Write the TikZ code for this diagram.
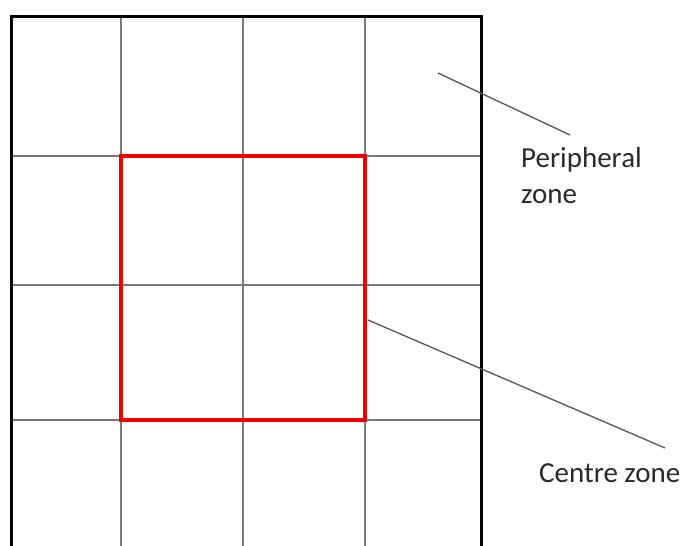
\documentclass[tikz,border=0pt]{standalone}
\usepackage{fontspec}
\setmainfont{Carlito}
\definecolor{gridgray}{HTML}{7A7A7A}
\definecolor{leadgray}{HTML}{555555}
\definecolor{txtgray}{HTML}{2A2A2A}
\definecolor{zonered}{HTML}{EE0000}
\begin{document}
\begin{tikzpicture}[x=1pt,y=-1pt,
  gridline/.style={draw=gridgray,line width=1.4pt},
  outerline/.style={draw=black,line width=3pt},
  centrebox/.style={draw=zonered,line width=4pt},
  leader/.style={draw=leadgray,line width=1.3pt},
  zonelabel/.style={text=txtgray,inner sep=0pt,align=left,
    font=\fontsize{29}{36}\selectfont}]
\useasboundingbox[fill=white] (0,0) rectangle (686,546);
% grid lines
\foreach \x in {121,243,365} \draw[gridline] (\x,16) -- (\x,546);
\foreach \y in {156,285,420} \draw[gridline] (11,\y) -- (481,\y);
% outer frame (open at the bottom)
\draw[outerline] (11,546) -- (11,16) -- (481,16) -- (481,546);
% centre zone
\draw[centrebox] (121,156) rectangle (365,420);
% labels
\node[zonelabel,anchor=base west] (peri) at (521,203) {Peripheral\\zone};
\node[zonelabel,anchor=base west] (centre) at (539,482) {Centre zone};
% leader lines
\coordinate (periA) at (438,73);
\coordinate (periB) at (570,135);
\coordinate (centA) at (368,320);
\coordinate (centB) at (665,448);
\draw[leader] (periA) -- (periB);
\draw[leader] (centA) -- (centB);
\end{tikzpicture}
\end{document}
